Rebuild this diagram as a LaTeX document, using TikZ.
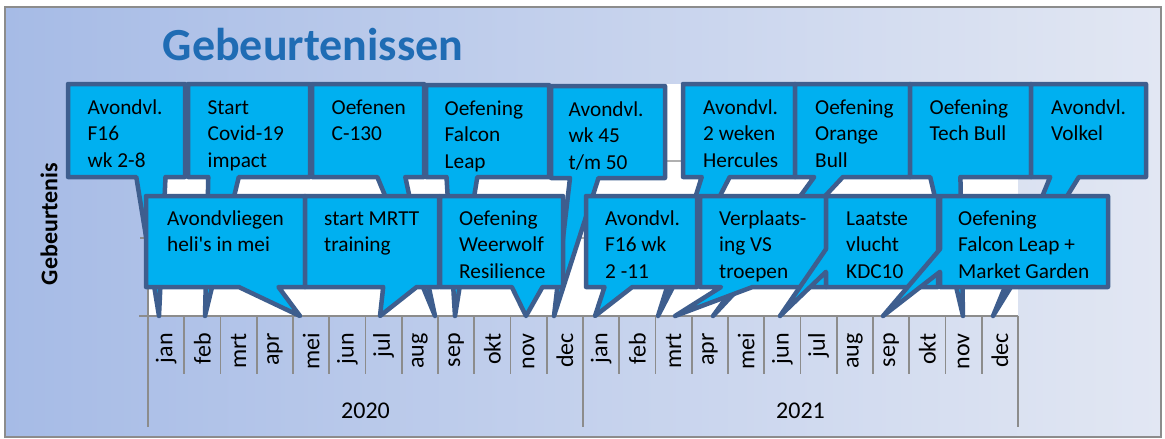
\documentclass[tikz,border=0pt]{standalone}
\usepackage{fontspec}
\setmainfont{Carlito}
\definecolor{cfill}{HTML}{00B0F0}
\definecolor{cline}{HTML}{3E5E8E}
\definecolor{ttl}{HTML}{1F6CB4}
\definecolor{bgA}{HTML}{A6BBE6}
\definecolor{bgB}{HTML}{E2E7F3}
\definecolor{axc}{HTML}{8C8C8C}
\definecolor{grd}{HTML}{B0B0B0}
\begin{document}
\begin{tikzpicture}[x=1pt,y=-1pt,
  callout/.style={fill=cfill, draw=cline, line width=4.5pt, line join=round},
  ctext/.style={anchor=north west, inner sep=0pt, align=left, text=black,
                font=\fontsize{21.3}{26.7}\selectfont},
  mlabel/.style={rotate=90, anchor=east, inner sep=0pt, text=black,
                 font=\fontsize{24}{28}\selectfont},
  ylabel/.style={anchor=base, inner sep=0pt, text=black,
                 font=\fontsize{24}{28}\selectfont},
  axisline/.style={draw=axc, line width=1.6pt},
  gridline/.style={draw=grd, line width=1.2pt}]
\useasboundingbox (0,0) rectangle (1165,439);
% background panel
\shade[left color=bgA, right color=bgB] (5,7) rectangle (1161,437);
\draw[axc, line width=1.5pt] (5,7) rectangle (1161,437);
% title
\node[anchor=base, inner sep=0pt, text=ttl, font=\fontsize{46}{50}\selectfont\bfseries] (title) at (313,60) {Gebeurtenissen};
% vertical axis title
\node[rotate=90, inner sep=0pt, text=black, font=\fontsize{24}{28}\selectfont\bfseries] (ytitle) at (49,224) {Gebeurtenis};
% plot area
\fill[white] (148,84) rectangle (1018,316);
\draw[gridline] (148,161) -- (1018,161);
\draw[gridline] (148,238) -- (1018,238);
% axes
\draw[axisline] (148,84) -- (148,427);
\foreach \yy in {84,161,238} \draw[axisline] (140,\yy) -- (148,\yy);
\draw[axisline] (139,316) -- (1018,316);
\foreach \k in {1,...,11,13,14,...,23} \draw[axisline] ({148+36.25*\k},316) -- ({148+36.25*\k},374);
\draw[axisline] (583,316) -- (583,427);
\draw[axisline] (1018,316) -- (1018,427);
% month labels
\foreach \m [count=\i from 0] in {jan,feb,mrt,apr,mei,jun,jul,aug,sep,okt,nov,dec,jan,feb,mrt,apr,mei,jun,jul,aug,sep,okt,nov,dec}
  \node[mlabel] (m\i) at ({148+36.25*(\i+0.5)},333) {\m};
\node[ylabel] (y2020) at (365.5,418) {2020};
\node[ylabel] (y2021) at (800.5,418) {2021};
% ---- top row callouts
\draw[callout] (68,84) -- (185,84) -- (185,177) -- (165.5,177) -- (159,316) -- (136.3,177) -- (68,177) -- cycle;
\node[ctext] (c1) at (87.5,95.3) {\strut Avondvl.\\F16\\wk 2-8};
\draw[callout] (188,84) -- (310,84) -- (310,177) -- (238.8,177) -- (205,316) -- (208.3,177) -- (188,177) -- cycle;
\node[ctext] (c2) at (207.5,95.3) {\strut Start\\Covid-19\\impact};
\draw[callout] (312,84) -- (424,84) -- (424,177) -- (405.3,177) -- (435,316) -- (377.3,177) -- (312,177) -- cycle;
\node[ctext] (c3) at (331.5,95.3) {\strut Oefenen\\C-130};
\draw[callout] (426,85) -- (549,85) -- (549,177) -- (477.3,177) -- (455,316) -- (446.5,177) -- (426,177) -- cycle;
\node[ctext] (c4) at (444.5,96.3) {\strut Oefening\\Falcon\\Leap};
\draw[callout] (551,86) -- (665,86) -- (665,178) -- (598.5,178) -- (554,316) -- (570,178) -- (551,178) -- cycle;
\node[ctext] (c5) at (568.5,97.3) {\strut Avondvl.\\wk 45\\t/m 50};
\draw[callout] (683,84) -- (795,84) -- (795,177) -- (729.7,177) -- (658,316) -- (701.7,177) -- (683,177) -- cycle;
\node[ctext] (c6) at (703,95.3) {\strut Avondvl.\\2 weken\\Hercules};
\draw[callout] (795,84) -- (910,84) -- (910,177) -- (842.9,177) -- (713,316) -- (814.2,177) -- (795,177) -- cycle;
\node[ctext] (c7) at (815,95.3) {\strut Oefening\\Orange\\Bull};
\draw[callout] (910,84) -- (1031,84) -- (1031,177) -- (960.4,177) -- (963,316) -- (930.2,177) -- (910,177) -- cycle;
\node[ctext] (c8) at (929.5,95.3) {\strut Oefening\\Tech Bull};
\draw[callout] (1031,84) -- (1146,84) -- (1146,177) -- (1078.9,177) -- (993,316) -- (1050.2,177) -- (1031,177) -- cycle;
\node[ctext] (c9) at (1051,95.3) {\strut Avondvl.\\Volkel};
% ---- second row callouts
\draw[callout] (146,196) -- (305,196) -- (305,287) -- (278.5,287) -- (300,316) -- (238.8,287) -- (146,287) -- cycle;
\node[ctext] (cA) at (167,206.3) {\strut Avondvliegen\\heli\textquotesingle s in mei};
\draw[callout] (305,196) -- (439,196) -- (439,287) -- (416.7,287) -- (380,316) -- (383.2,287) -- (305,287) -- cycle;
\node[ctext] (cB) at (324,206.3) {\strut start MRTT\\training};
\draw[callout] (440,196) -- (563,196) -- (563,287) -- (542.5,287) -- (526,316) -- (511.8,287) -- (440,287) -- cycle;
\node[ctext] (cC) at (459,206.3) {\strut Oefening\\Weerwolf\\Resilience};
\draw[callout] (586,196) -- (697,196) -- (697,287) -- (632.3,287) -- (595,316) -- (604.5,287) -- (586,287) -- cycle;
\node[ctext] (cD) at (605,206.3) {\strut Avondvl.\\F16 wk\\2 -11};
\draw[callout] (700,196) -- (826,196) -- (826,287) -- (752.5,287) -- (675,316) -- (721,287) -- (700,287) -- cycle;
\node[ctext] (cE) at (719,206.3) {\strut Verplaats-\\ing VS\\troepen};
\draw[callout] (826,196) -- (938,196) -- (938,287) -- (826,287) -- (826,271.8) -- (780,316) -- (826,249.1) -- cycle;
\node[ctext] (cF) at (846,206.3) {\strut Laatste\\vlucht\\KDC10};
\draw[callout] (940,196) -- (1108,196) -- (1108,287) -- (940,287) -- (940,271.8) -- (883,316) -- (940,249.1) -- cycle;
\node[ctext] (cG) at (958,206.3) {\strut Oefening\\Falcon Leap +\\Market Garden};
\end{tikzpicture}
\end{document}
